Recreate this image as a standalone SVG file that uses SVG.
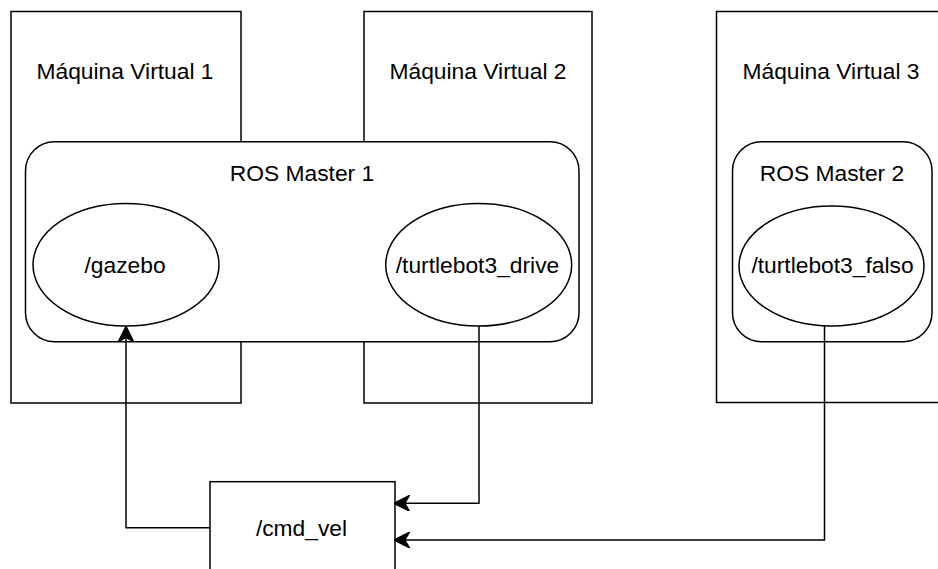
<svg xmlns="http://www.w3.org/2000/svg" width="938" height="569" viewBox="0 0 938 569">
  <style>
    .box { fill: #ffffff; stroke: #000000; stroke-width: 1.5; }
    .lbl { font-family: "Liberation Sans", Arial, Helvetica, sans-serif; font-size: 22.8px; fill: #000000; text-anchor: middle; }
    .edge { fill: none; stroke: #000000; stroke-width: 1.5; }
  </style>
  <defs>
    <marker id="arrow" markerUnits="userSpaceOnUse" markerWidth="16" markerHeight="16" viewBox="0 0 14 14" refX="4" refY="7" orient="auto">
      <path d="M0,0 L14,7 L0,14 L4,7 Z" fill="#000000" stroke="#000000" stroke-width="1"/>
    </marker>
  </defs>
  <rect width="938" height="569" fill="#ffffff"/>

  <g id="vm1">
    <rect class="box" x="11" y="11.5" width="230" height="391.5"/>
    <text class="lbl" x="125" y="78.5">Máquina Virtual 1</text>
  </g>
  <g id="vm2">
    <rect class="box" x="364" y="11.5" width="228" height="391.5"/>
    <text class="lbl" x="478" y="78.5">Máquina Virtual 2</text>
  </g>
  <g id="vm3">
    <rect class="box" x="716.5" y="11.5" width="240" height="391"/>
    <text class="lbl" x="831" y="78.5">Máquina Virtual 3</text>
  </g>

  <g id="rosmaster1">
    <rect class="box" x="25.5" y="141.7" width="553.5" height="200" rx="29" ry="29"/>
    <text class="lbl" x="302" y="181">ROS Master 1</text>
  </g>
  <g id="rosmaster2">
    <rect class="box" x="732.5" y="141.7" width="199.5" height="200" rx="29" ry="29"/>
    <text class="lbl" x="832" y="181">ROS Master 2</text>
  </g>

  <g id="gazebo">
    <ellipse class="box" cx="126" cy="264.7" rx="93" ry="61.3"/>
    <text class="lbl" x="125" y="272.5">/gazebo</text>
  </g>
  <g id="turtlebot3_drive">
    <ellipse class="box" cx="478.7" cy="264.7" rx="93" ry="61.3"/>
    <text class="lbl" x="477.5" y="272.5">/turtlebot3_drive</text>
  </g>
  <g id="turtlebot3_falso">
    <ellipse class="box" cx="831.5" cy="266" rx="92.5" ry="60"/>
    <text class="lbl" x="832.5" y="272.5">/turtlebot3_falso</text>
  </g>

  <g id="cmd_vel">
    <rect class="box" x="210" y="481.7" width="185" height="100"/>
    <text class="lbl" x="301.5" y="536">/cmd_vel</text>
  </g>

  <g id="connectors">
    <path class="edge" d="M210,527.7 L126,527.7 L126,337.5" marker-end="url(#arrow)"/>
    <path class="edge" d="M479,326 L479,503.3 L405,503.3" marker-end="url(#arrow)"/>
    <path class="edge" d="M824.5,326 L824.5,540 L405,540" marker-end="url(#arrow)"/>
  </g>
</svg>
